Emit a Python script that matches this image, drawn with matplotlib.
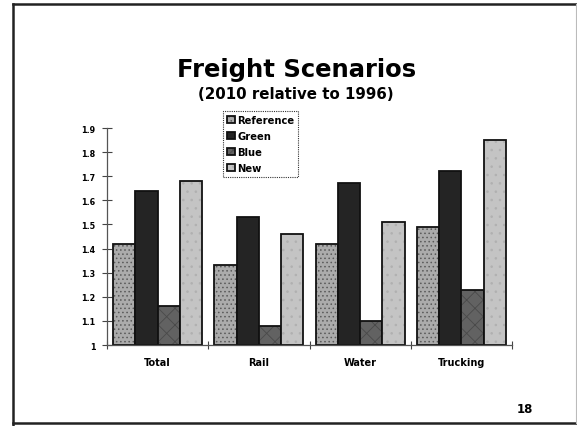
import matplotlib
matplotlib.use("Agg")
import matplotlib.pyplot as plt
from matplotlib.lines import Line2D
import numpy as np

categories = ["Total", "Rail", "Water", "Trucking"]
series = ["Reference", "Green", "Blue", "New"]
reference = [1.42, 1.33, 1.42, 1.49]
green = [1.64, 1.53, 1.67, 1.72]
blue = [1.16, 1.08, 1.10, 1.23]
new = [1.68, 1.46, 1.51, 1.85]
yticks = [1, 1.1, 1.2, 1.3, 1.4, 1.5, 1.6, 1.7, 1.8, 1.9]
ytick_labels = ["1", "1.1", "1.2", "1.3", "1.4", "1.5", "1.6", "1.7", "1.8", "1.9"]

plt.rcParams['font.family'] = ['DejaVu Sans']
plt.rcParams['hatch.linewidth'] = 0.6

W, H = 577, 427
fig = plt.figure(figsize=(W / 100, H / 100), dpi=100)
fig.patch.set_facecolor("white")

ax = fig.add_axes([107 / W, 1 - 346 / H, 405 / W, (346 - 129) / H])

values = [reference, green, blue, new]
colors = ["#ababab", "#242424", "#626262", "#c4c4c4"]
hatches = ["....", None, "xx", ".."]
hatch_cols = ["#5a5a5a", None, "#4a4a4a", "#b0b0b0"]
bw = 0.22
x = np.arange(len(categories))
handles = []
for i, (vals, c, h, hc) in enumerate(zip(values, colors, hatches, hatch_cols)):
    pos = x + 0.06 + bw * (i + 0.5)
    bars = ax.bar(pos, [v - 1 for v in vals], bottom=1, width=bw, color=c,
                  edgecolor="#111111", linewidth=1.3, align="center", zorder=2)
    if h:
        for b in bars:
            b.set_hatch(h)
            b._hatch_color = matplotlib.colors.to_rgba(hc)
    handles.append(bars)

ax.set_xlim(0, len(categories))
ax.set_ylim(1, 1.9)
ax.set_yticks(yticks)
ax.set_yticklabels(ytick_labels, fontsize=5.8, fontweight="bold")
ax.set_xticks(np.arange(len(categories) + 1))
ax.set_xticklabels([])
ax.set_xticks(x + 0.5, minor=True)
ax.set_xticklabels(categories, minor=True, fontsize=7, fontweight="bold")
ax.tick_params(axis="x", which="minor", length=0, pad=9)
ax.tick_params(axis="x", which="major", direction="inout", length=6, width=0.8, color="#444444")
ax.tick_params(axis="y", direction="inout", length=7, width=0.8, color="#444444", pad=5)
for s in ["top", "right"]:
    ax.spines[s].set_visible(False)
for s in ["left", "bottom"]:
    ax.spines[s].set_color("#555555")
    ax.spines[s].set_linewidth(0.9)
ax.set_facecolor("none")

leg = fig.legend([hh[0] for hh in handles], series,
                 loc="upper left", bbox_to_anchor=(222.5 / W, 1 - 112 / H),
                 prop={"size": 7.2, "weight": "bold"}, handlelength=0.8,
                 handleheight=0.7, handletextpad=0.25, labelspacing=0.6,
                 borderpad=0.4, borderaxespad=0, frameon=True, fancybox=False)
leg.get_frame().set_edgecolor("black")
leg.get_frame().set_linewidth(0.8)
leg.get_frame().set_linestyle((0, (1, 1)))

fig.text(297 / W, 1 - 69.5 / H, "Freight Scenarios", ha="center", va="center",
         fontsize=17.5, fontweight="bold")
fig.text(296 / W, 1 - 94.5 / H, "(2010 relative to 1996)", ha="center", va="center",
         fontsize=10.8, fontweight="bold")
fig.text(525 / W, 1 - 410 / H, "18", ha="center", va="center",
         fontsize=8.5, fontweight="bold")

# slide frame
fig.add_artist(Line2D([13 / W, 577 / W], [1 - 5 / H, 1 - 5 / H], color="#222222", lw=1.8))
fig.add_artist(Line2D([13 / W, 13 / W], [1 - 5 / H, 1 - 426 / H], color="#222222", lw=1.8))
fig.add_artist(Line2D([13 / W, 577 / W], [1 - 424 / H, 1 - 424 / H], color="#222222", lw=1.8))
fig.add_artist(Line2D([576 / W, 576 / W], [1 - 5 / H, 1 - 424 / H], color="#bbbbbb", lw=0.8))

fig.savefig("out.png", dpi=100, facecolor="white")
